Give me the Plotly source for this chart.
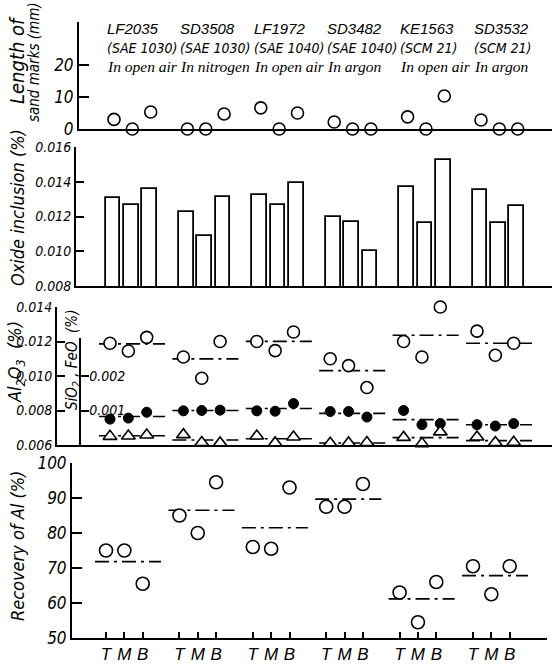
import numpy as np
import plotly.graph_objects as go

W, H = 555, 664

# ---------------- data ----------------
groups = ["LF2035", "SD3508", "LF1972", "SD3482", "KE1563", "SD3532"]
grades = ["(SAE 1030)", "(SAE 1030)", "(SAE 1040)", "(SAE 1040)", "(SCM 21)", "(SCM 21)"]
atmos = ["In open air", "In nitrogen", "In open air", "In argon", "In open air", "In argon"]
positions = ["T", "M", "B"]

sand_marks = [[3.0, 0, 5.3], [0, 0, 4.7], [6.6, 0, 5.0], [2.2, 0, 0], [3.8, 0, 10.3], [2.8, 0, 0]]
oxide = [[0.01306, 0.01264, 0.01356], [0.01224, 0.01087, 0.01310], [0.01326, 0.01266, 0.01394],
         [0.01200, 0.01170, 0.01002], [0.01368, 0.01164, 0.01523], [0.01350, 0.01164, 0.01258]]
al2o3 = [[0.01190, 0.01145, 0.01224], [0.01110, 0.00987, 0.01200], [0.01200, 0.01147, 0.01255],
         [0.01100, 0.01060, 0.00933], [0.01200, 0.01110, 0.01400], [0.01260, 0.01120, 0.01190]]
sio2 = [[0.00075, 0.00078, 0.00095], [0.00099, 0.00100, 0.00101], [0.00099, 0.00098, 0.00120],
        [0.00097, 0.00097, 0.00081], [0.00100, 0.00059, 0.00062], [0.00059, 0.00055, 0.00062]]
feo = [[0.00025, 0.00026, 0.00029], [0.00030, 0.00007, 0.00006], [0.00026, 0.00006, 0.00023],
       [0.00005, 0.00006, 0.00007], [0.00022, 0.00004, 0.00038], [0.00023, 0.00007, 0.00008]]
recovery = [[75, 75, 65.5], [85, 80, 94.5], [76, 75.5, 93], [87.5, 87.5, 94], [63, 54.5, 66], [70.5, 62.5, 70.5]]

sand_ticks = [0, 10, 20]
oxide_ticks = [0.008, 0.010, 0.012, 0.014, 0.016]
al_ticks = [0.006, 0.008, 0.010, 0.012, 0.014]
sf_ticks = [0.001, 0.002]
rec_ticks = [50, 60, 70, 80, 90, 100]

# ---------------- helpers ----------------
NUMF = "Liberation Sans Narrow, DejaVu Sans Condensed, Liberation Sans, sans-serif"
TXTF = "Liberation Serif, DejaVu Serif, serif"
SANSF = "Liberation Sans, DejaVu Sans, sans-serif"

ng = len(groups)
xs = [[4 * i + j for j in range(3)] for i in range(ng)]
flat_x = [v for row in xs for v in row]


def flat(a):
    return [v for row in a for v in row]


def mean_segments(vals):
    lx, ly = [], []
    for i, row in enumerate(vals):
        m = float(np.mean(row))
        lx += [xs[i][0] - 0.6, xs[i][2] + 1.0, None]
        ly += [m, m, None]
    return lx, ly


def px_x(p):
    return p / W


def px_y(p):
    return 1 - p / H


def ydom(top, bot):
    return [px_y(bot), px_y(top)]


def xdom(l, r):
    return [px_x(l), px_x(r)]


def xr(l, r, dx):
    return [(l - 106 - dx) / 18.35, (r - 106 - dx) / 18.35]


open_m = dict(symbol="circle", color="white", size=12, line=dict(color="black", width=1.6))
fill_m = dict(symbol="circle", color="black", size=10, line=dict(color="black", width=1))
tri_m = dict(symbol="triangle-up", color="white", size=12, line=dict(color="black", width=1.6))
DASH = "14px,5px,3px,5px"

fig = go.Figure()

# panel 1: sand marks
fig.add_trace(go.Scatter(x=flat_x, y=flat(sand_marks), mode="markers", marker=open_m,
                         cliponaxis=False, xaxis="x", yaxis="y"))

# panel 2: oxide inclusion bars
fig.add_trace(go.Bar(x=flat_x, y=flat(oxide), width=0.8,
                     marker=dict(color="white", line=dict(color="black", width=1.8)),
                     xaxis="x2", yaxis="y2"))

# panel 3: Al2O3 (primary axis), SiO2 / FeO (secondary axis)
for vals, ya in [(al2o3, "y3"), (sio2, "y5"), (feo, "y5")]:
    lx, ly = mean_segments(vals)
    fig.add_trace(go.Scatter(x=lx, y=ly, mode="lines", line=dict(color="black", width=1.6, dash=DASH),
                             cliponaxis=False, xaxis="x3", yaxis=ya))
fig.add_trace(go.Scatter(x=flat_x, y=flat(al2o3), mode="markers", marker=open_m, cliponaxis=False,
                         xaxis="x3", yaxis="y3"))
fig.add_trace(go.Scatter(x=flat_x, y=flat(sio2), mode="markers", marker=fill_m, cliponaxis=False,
                         xaxis="x3", yaxis="y5"))
fig.add_trace(go.Scatter(x=flat_x, y=flat(feo), mode="markers", marker=tri_m, cliponaxis=False,
                         xaxis="x3", yaxis="y5"))

# panel 4: recovery of Al
lx, ly = mean_segments(recovery)
fig.add_trace(go.Scatter(x=lx, y=ly, mode="lines", line=dict(color="black", width=1.6, dash=DASH),
                         xaxis="x4", yaxis="y4"))
fig.add_trace(go.Scatter(x=flat_x, y=flat(recovery), mode="markers",
                         marker=dict(open_m, size=13), cliponaxis=False, xaxis="x4", yaxis="y4"))

# ---------------- axes ----------------
bx = dict(showline=True, linecolor="black", linewidth=2, showgrid=False, zeroline=False,
          ticks="", showticklabels=False, automargin=False)
by = dict(showline=True, linecolor="black", linewidth=2, showgrid=False, zeroline=False,
          ticks="inside", tickcolor="black", tickwidth=1.5, automargin=False)

fig.update_layout(
    template="none",
    width=W, height=H, margin=dict(l=0, r=0, t=0, b=0, pad=0), autosize=False,
    plot_bgcolor="white", paper_bgcolor="white", showlegend=False, bargap=0,
    xaxis=dict(bx, domain=xdom(79, 552), range=xr(79, 552, 8), anchor="y"),
    xaxis2=dict(bx, domain=xdom(76, 552), range=xr(76, 552, 7), anchor="y2"),
    xaxis3=dict(bx, domain=xdom(57, 552), range=xr(57, 552, 4), anchor="y3"),
    xaxis4=dict(bx, domain=xdom(72, 547), range=xr(72, 547, 0), anchor="y4",
                ticks="inside", ticklen=6, tickwidth=1.5, tickcolor="black",
                showticklabels=True, tickvals=flat_x, ticktext=positions * ng,
                tickfont=dict(family=SANSF, size=17, style="italic", color="black")),
    yaxis=dict(by, domain=ydom(22, 129), range=[0, 33.4], anchor="x", ticklen=10,
               tickvals=sand_ticks, ticktext=[str(v) for v in sand_ticks],
               tickfont=dict(family=NUMF, size=17, style="italic", color="black")),
    yaxis2=dict(by, domain=ydom(147, 286), range=[0.008, 0.016], anchor="x2", ticklen=8,
                tickvals=oxide_ticks, ticktext=["%.3f" % v for v in oxide_ticks],
                tickfont=dict(family=NUMF, size=14, style="italic", color="black")),
    yaxis3=dict(by, domain=ydom(307, 445), range=[0.006, 0.014], anchor="x3", ticklen=8,
                tickvals=al_ticks, ticktext=["%.3f" % v for v in al_ticks],
                tickfont=dict(family=NUMF, size=14, style="italic", color="black")),
    yaxis5=dict(overlaying="y3", anchor="free", position=px_x(80), range=[0, 0.004],
                showline=False, showgrid=False, zeroline=False, ticks="inside", ticklen=8,
                tickwidth=1.5, tickcolor="black", ticklabelposition="inside", automargin=False,
                tickvals=sf_ticks, ticktext=["%.3f" % v for v in sf_ticks],
                tickfont=dict(family=NUMF, size=14, style="italic", color="black")),
    yaxis4=dict(by, domain=ydom(463, 638), range=[50, 100], anchor="x4", ticklen=10,
                tickvals=rec_ticks, ticktext=[str(v) for v in rec_ticks],
                tickfont=dict(family=NUMF, size=17, style="italic", color="black")),
)

# secondary (SiO2, FeO) axis line, drawn only over its lower part as in the original
fig.add_shape(type="line", xref="paper", yref="y5", x0=px_x(80), x1=px_x(80), y0=0, y1=0.0031,
              line=dict(color="black", width=2))

# ---------------- annotations ----------------
ann = []
line_styles = [(SANSF, 15), (NUMF, 14), (TXTF, 15.5)]
for i in range(ng):
    for k, txt in enumerate([groups[i], grades[i], atmos[i]]):
        fam, sz = line_styles[k]
        ann.append(dict(x=xs[i][0] - 0.5, xref="x", y=px_y(29 + 18.5 * k), yref="paper",
                        text=txt, showarrow=False, xanchor="left", yanchor="middle",
                        font=dict(family=fam, size=sz, style="italic", color="black")))


def ytitle(text, xpx, ypx, size):
    return dict(x=px_x(xpx), y=px_y(ypx), xref="paper", yref="paper", text=text, textangle=-90,
                showarrow=False, xanchor="center", yanchor="middle",
                font=dict(family=NUMF, size=size, style="italic", color="black"))


ann.append(ytitle("Length of", 17, 60, 20))
ann.append(ytitle("sand marks (mm)", 34, 62, 15))
ann.append(ytitle("Oxide inclusion (%)", 17, 208, 18))
ann.append(ytitle("Al<sub>2</sub>O<sub>3</sub>  (%)", 16, 362, 18))
ann.append(ytitle("SiO<sub>2</sub> , FeO  (%)", 72, 360, 15))
ann.append(ytitle("Recovery of Al (%)", 17, 546, 18))

fig.update_layout(annotations=ann)

# remove the browser's default page margin so the figure fills the window exactly
fig.write_html("out.html", config={"displayModeBar": False},
               post_script="document.body.style.margin='0px';")
